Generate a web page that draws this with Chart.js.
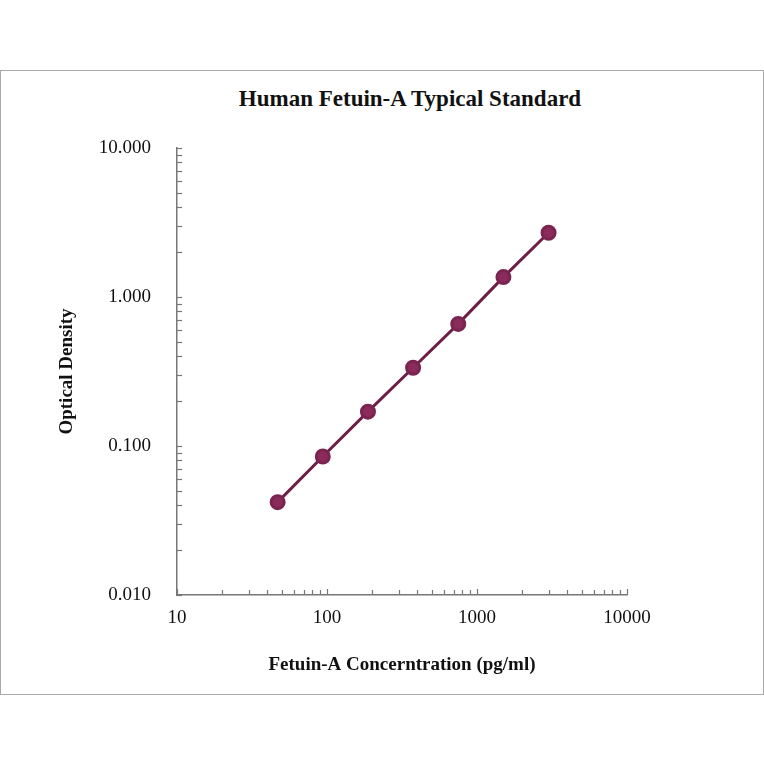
<!DOCTYPE html>
<html><head><script src="https://cdn.jsdelivr.net/npm/chart.js@4/dist/chart.umd.min.js"></script>
<style>body{margin:0;background:#fff}#frame{position:absolute;left:0;top:70px;width:762px;height:623px;border:1px solid #aaa}
#t{position:absolute;top:86px;left:0;width:820px;text-align:center;font:bold 23px "Liberation Serif";color:#111}
#c{position:absolute;left:0;top:0}</style></head>
<body><div id="frame"></div><div id="t">Human Fetuin-A Typical Standard</div>
<canvas id="c" width="764" height="764"></canvas>
<script>
const concentrations=[46.875,93.75,187.5,375,750,1500,3000];
const od=[0.042,0.085,0.170,0.335,0.66,1.36,2.70];
const xTicks=[10,100,1000,10000];
const yTicks=[0.01,0.1,1,10];
const font={family:'Liberation Serif',size:19};
const innerTicks={id:'innerTicks',afterDraw(ch){const c=ch.ctx,a=ch.chartArea;c.save();c.strokeStyle='#777';c.lineWidth=1.2;
 const xs=ch.scales.x,ys=ch.scales.y;
 xs.ticks.forEach(t=>{const p=Math.round(xs.getPixelForValue(t.value))+0.5;c.beginPath();c.moveTo(p,a.bottom);c.lineTo(p,a.bottom-(xTicks.includes(t.value)?6:5));c.stroke();});
 ys.ticks.forEach(t=>{const p=Math.round(ys.getPixelForValue(t.value))+0.5;c.beginPath();c.moveTo(a.left,p);c.lineTo(a.left+5,p);c.stroke();});
 c.restore();}};
new Chart(document.getElementById('c'),{type:'scatter',plugins:[innerTicks],
data:{datasets:[{data:concentrations.map((x,i)=>({x,y:od[i]})),showLine:true,borderColor:'#6e1f45',borderWidth:3,
pointBackgroundColor:'#8a2b5b',pointBorderColor:'#7a2450',pointRadius:6.5}]},
options:{responsive:false,animation:false,layout:{padding:{left:52,top:148,right:137,bottom:84}},
plugins:{legend:{display:false},tooltip:{enabled:false}},
scales:{
x:{type:'logarithmic',min:10,max:10000,afterFit:s=>{s.height=85},
 afterBuildTicks:s=>{const t=[];for(let d=10;d<10000;d*=10)for(let k=1;k<10;k++)t.push({value:d*k});t.push({value:10000});s.ticks=t},
 ticks:{autoSkip:false,maxRotation:0,color:'#111',font,padding:12,callback:v=>xTicks.includes(v)?String(v):''},
 grid:{drawOnChartArea:false,drawTicks:false},border:{color:'#777',width:1.5},
 title:{display:true,text:'Fetuin-A Concerntration (pg/ml)',color:'#111',font:{family:'Liberation Serif',size:19,weight:'bold'}}},
y:{type:'logarithmic',min:0.01,max:10,afterFit:s=>{s.width=125},
 afterBuildTicks:s=>{const t=[];for(let d=0.01;d<9;d*=10)for(let k=1;k<10;k++)t.push({value:+(d*k).toPrecision(3)});t.push({value:10});s.ticks=t},
 ticks:{autoSkip:false,color:'#111',font,padding:26,callback:v=>yTicks.some(y=>Math.abs(y-v)<1e-9)?v.toFixed(3):''},
 grid:{drawOnChartArea:false,drawTicks:false},border:{color:'#777',width:1.5},
 title:{display:true,text:'Optical Density',color:'#111',font:{family:'Liberation Serif',size:19,weight:'bold'}}}}}});
</script></body></html>
